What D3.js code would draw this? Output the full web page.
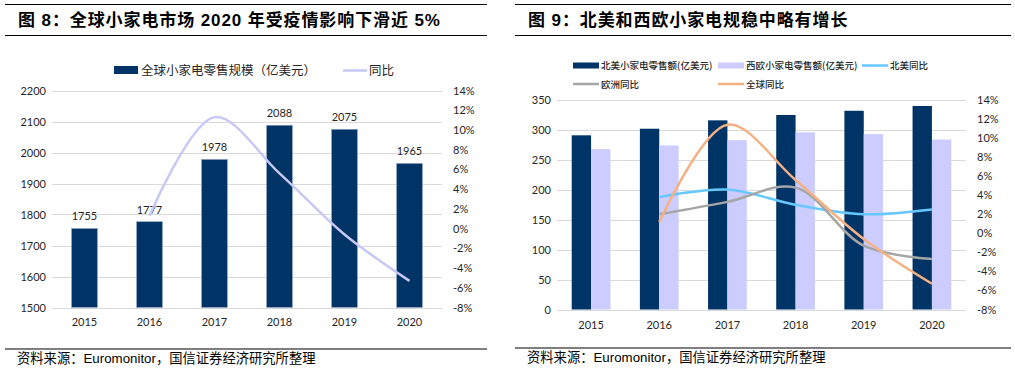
<!DOCTYPE html>
<html lang="zh">
<head>
<meta charset="UTF-8">
<script src="https://cdn.jsdelivr.net/npm/d3@7"></script>
<style>
    body { margin: 0; background: #fff; }
    svg { display: block; font-family: "Liberation Sans", "Noto Sans CJK SC", sans-serif; }
    .tick text { font-family: Lato, "Noto Sans CJK SC", sans-serif; fill: #262626; }
    .cjk { font-family: "Noto Sans CJK SC", sans-serif; }
</style>
</head>
<body>
<svg id="chart" width="1015" height="369"></svg>
<script>
    const years = ["2015", "2016", "2017", "2018", "2019", "2020"];

    // fig 8
    const globalSales = [1755, 1777, 1978, 2088, 2075, 1965];
    const globalYoy = [null, 1.3, 11.3, 5.6, -0.6, -5.3];
    const leftTicks = [1500, 1600, 1700, 1800, 1900, 2000, 2100, 2200];
    const pctTicks = [-8, -6, -4, -2, 0, 2, 4, 6, 8, 10, 12, 14];

    // fig 9
    const naSales = [291, 302, 316, 325, 332, 340];
    const weSales = [268, 274, 283, 296, 293, 284];
    const naYoy = [null, 3.8, 4.6, 3.0, 2.0, 2.5];
    const euYoy = [null, 2.0, 3.3, 4.8, -1.3, -2.7];
    const worldYoy = [null, 1.2, 11.4, 5.6, -0.6, -5.3];
    const rightTicks = [0, 50, 100, 150, 200, 250, 300, 350];

    const navy = "#013466", lavender = "#ccccff";
    const svg = d3.select("#chart");

    const frame = (x0, x1, title, srcY) => {
        svg.append("line").attr("x1", x0).attr("x2", x1).attr("y1", 4.5).attr("y2", 4.5).attr("stroke", "#000").attr("stroke-width", 1.2);
        svg.append("line").attr("x1", x0).attr("x2", x1).attr("y1", 35.5).attr("y2", 35.5).attr("stroke", "#000").attr("stroke-width", 1.2);
        svg.append("text").attr("x", x0 + 13).attr("y", 26).attr("font-size", 17).attr("font-weight", "bold")
            .attr("letter-spacing", 0.9).text(title);
        svg.append("line").attr("x1", x0).attr("x2", x1).attr("y1", srcY).attr("y2", srcY).attr("stroke", "#000").attr("stroke-width", 1.2);
        svg.append("text").attr("x", x0 + 12).attr("y", srcY + 14).attr("font-size", 13.3).text("资料来源：Euromonitor，国信证券经济研究所整理");
    };

    const axes = (g, x, yL, yR, lTicks, left, right, fmtR) => {
        g.append("g").selectAll("line").data(lTicks).join("line")
            .attr("x1", left).attr("x2", right)
            .attr("y1", d => Math.round(yL(d)) + 0.5).attr("y2", d => Math.round(yL(d)) + 0.5)
            .attr("stroke", "#d9d9d9");
        g.append("g").attr("transform", `translate(${left - 6},0)`)
            .call(d3.axisLeft(yL).tickValues(lTicks).tickSize(0).tickPadding(0).tickFormat(d => d))
            .call(a => a.select(".domain").remove())
            .selectAll("text").attr("font-size", 11);
        g.append("g").attr("transform", `translate(${right + 11},0)`)
            .call(d3.axisRight(yR).tickValues(pctTicks).tickSize(0).tickPadding(0).tickFormat(fmtR))
            .call(a => a.select(".domain").remove())
            .selectAll("text").attr("font-size", 11);
    };

    const smooth = d3.line().defined(d => d[1] != null).curve(d3.curveCatmullRom.alpha(0.5));

    // ---------- left chart ----------
    frame(5, 487, "图 8：全球小家电市场 2020 年受疫情影响下滑近 5%", 349);
    {
        const left = 52, right = 442;
        const x = d3.scaleBand().domain(years).range([left, right]).paddingInner(0.6).paddingOuter(0.3);
        const y = d3.scaleLinear().domain([1500, 2200]).range([307.5, 90.5]);
        const yR = d3.scaleLinear().domain([-8, 14]).range([307.5, 90.5]);
        const g = svg.append("g");
        axes(g, x, y, yR, leftTicks, left, right, d => d + "%");

        g.selectAll(".bar").data(globalSales).join("rect")
            .attr("x", (d, i) => x(years[i])).attr("width", x.bandwidth())
            .attr("y", d => y(d)).attr("height", d => y(1500) - y(d))
            .attr("fill", navy).attr("stroke", "#9db0cc").attr("stroke-width", 0.6);
        g.selectAll(".lbl").data(globalSales).join("text")
            .attr("x", (d, i) => x(years[i]) + x.bandwidth() / 2).attr("y", d => y(d) - 8)
            .attr("text-anchor", "middle").attr("font-size", 11).attr("fill", "#262626")
            .style("font-family", "Lato, sans-serif").text(d => d);

        g.append("path").datum(globalYoy.map((v, i) => [x(years[i]) + x.bandwidth() / 2, v == null ? null : yR(v)]))
            .attr("d", smooth).attr("fill", "none").attr("stroke", "#c8c8f6").attr("stroke-width", 2.5);

        g.append("g").attr("transform", "translate(0,326)").selectAll("text").data(years).join("text")
            .attr("x", d => x(d) + x.bandwidth() / 2).attr("text-anchor", "middle")
            .attr("font-size", 11).attr("fill", "#262626").style("font-family", "Lato, sans-serif").text(d => d);

        // legend
        g.append("rect").attr("x", 114).attr("y", 66).attr("width", 24).attr("height", 8).attr("fill", navy);
        g.append("text").attr("class", "cjk").attr("x", 141).attr("y", 75).attr("font-size", 12.5).attr("fill", "#262626").text("全球小家电零售规模（亿美元）");
        g.append("line").attr("x1", 343).attr("x2", 367).attr("y1", 70.5).attr("y2", 70.5).attr("stroke", "#c8c8f6").attr("stroke-width", 2.5);
        g.append("text").attr("class", "cjk").attr("x", 369).attr("y", 75).attr("font-size", 12.5).attr("fill", "#262626").text("同比");
    }

    // ---------- right chart ----------
    frame(515, 1011, "图 9：北美和西欧小家电规稳中略有增长", 348);
    {
        const left = 557, right = 966;
        const x = d3.scaleBand().domain(years).range([left, right]);
        const inner = d3.scaleBand().domain(["na", "we"]).range([x.bandwidth() * 0.216, x.bandwidth() * 0.784]);
        const y = d3.scaleLinear().domain([0, 350]).range([309.5, 100]);
        const yR = d3.scaleLinear().domain([-8, 14]).range([309.5, 100]);
        const g = svg.append("g");
        axes(g, x, y, yR, rightTicks, left, right, d => d + "%");

        const series = [["na", naSales, navy], ["we", weSales, lavender]];
        series.forEach(([key, vals, col]) => {
            g.append("g").selectAll("rect").data(vals).join("rect")
                .attr("x", (d, i) => x(years[i]) + inner(key)).attr("width", inner.bandwidth())
                .attr("y", d => y(d)).attr("height", d => y(0) - y(d))
                .attr("fill", col);
        });

        const lines = [[naYoy, "#66c8ff"], [euYoy, "#a6a6a6"], [worldYoy, "#f4b183"]];
        lines.forEach(([vals, col]) => {
            g.append("path").datum(vals.map((v, i) => [x(years[i]) + x.bandwidth() / 2, v == null ? null : yR(v)]))
                .attr("d", smooth).attr("fill", "none").attr("stroke", col).attr("stroke-width", 2.5);
        });

        g.append("g").attr("transform", "translate(0,329)").selectAll("text").data(years).join("text")
            .attr("x", d => x(d) + x.bandwidth() / 2).attr("text-anchor", "middle")
            .attr("font-size", 11).attr("fill", "#262626").style("font-family", "Lato, sans-serif").text(d => d);

        // legend
        const leg = [
            ["rect", navy, "北美小家电零售额(亿美元)", 573, 65.5],
            ["rect", lavender, "西欧小家电零售额(亿美元)", 718, 65.5],
            ["line", "#66c8ff", "北美同比", 862, 65.5],
            ["line", "#a6a6a6", "欧洲同比", 573, 84],
            ["line", "#f4b183", "全球同比", 718, 84]
        ];
        leg.forEach(([type, col, label, lx, ly]) => {
            if (type === "rect") {
                g.append("rect").attr("x", lx).attr("y", ly - 3).attr("width", 26).attr("height", 6).attr("fill", col);
            } else {
                g.append("line").attr("x1", lx).attr("x2", lx + 26).attr("y1", ly).attr("y2", ly).attr("stroke", col).attr("stroke-width", 2.5);
            }
            g.append("text").attr("class", "cjk").attr("x", lx + 28).attr("y", ly + 3.5).attr("font-size", 9.5)
                .attr("font-weight", 500).attr("fill", "#262626").text(label);
        });
    }
</script>
</body>
</html>
